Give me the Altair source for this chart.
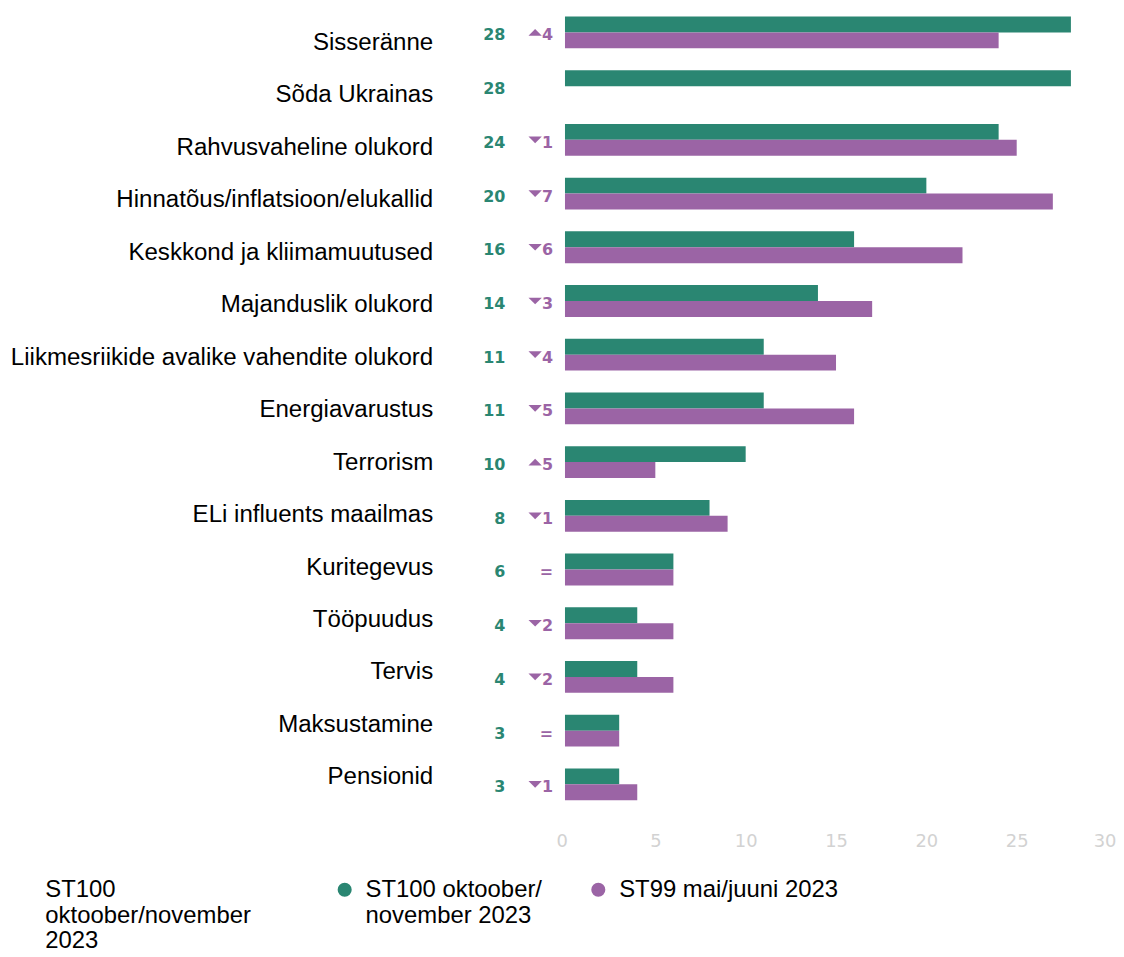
import altair as alt
import pandas as pd

categories = [
    "Sisseränne", "Sõda Ukrainas", "Rahvusvaheline olukord",
    "Hinnatõus/inflatsioon/elukallid", "Keskkond ja kliimamuutused",
    "Majanduslik olukord", "Liikmesriikide avalike vahendite olukord",
    "Energiavarustus", "Terrorism", "ELi influents maailmas", "Kuritegevus",
    "Tööpuudus", "Tervis", "Maksustamine", "Pensionid",
]
st100 = [28, 28, 24, 20, 16, 14, 11, 11, 10, 8, 6, 4, 4, 3, 3]
st99 = [24, None, 25, 27, 22, 17, 15, 16, 5, 9, 6, 6, 6, 3, 4]
change_dir = ["up", None, "down", "down", "down", "down", "down", "down",
              "up", "down", "eq", "down", "down", "eq", "down"]
change_num = [4, None, 1, 7, 6, 3, 4, 5, 5, 1, None, 2, 2, None, 1]
series = ["ST100 oktoober/november 2023", "ST99 mai/juuni 2023"]
colors = ["#2a8672", "#9b64a5"]
x_ticks = [0, 5, 10, 15, 20, 25, 30]
GREEN, PURPLE = colors

rows = []
for c, a, b in zip(categories, st100, st99):
    rows.append({"category": c, "series": series[0], "value": a})
    if b is not None:
        rows.append({"category": c, "series": series[1], "value": b})
bars_df = pd.DataFrame(rows)

lab_rows = []
for c, a, d, n in zip(categories, st100, change_dir, change_num):
    if d is None:
        ch = None
    elif d == "eq":
        ch = "="
    else:
        ch = str(n)
    lab_rows.append({"category": c, "st100": str(a), "dir": d, "chg": ch})
lab_df = pd.DataFrame(lab_rows)

yscale = alt.Scale(paddingInner=0.407, paddingOuter=0.111)
y_enc = alt.Y(
    "category:N", sort=categories, scale=yscale, title=None,
    axis=alt.Axis(domain=False, ticks=False, grid=False, labelPadding=133,
                  labelFont="Liberation Sans", labelFontSize=24.2,
                  labelColor="black", labelLimit=600,
                  labelOffset=alt.ExprRef("10.7 - 17.7 * datum.index")),
)

legend = alt.Legend(
    orient="none", legendX=-522.5, legendY=872, direction="horizontal",
    title=["ST100", "oktoober/november", "2023"], titleOrient="left",
    titleFont="Liberation Sans", titleFontSize=24, titleFontWeight="normal",
    titleColor="black", titleLineHeight=26, titlePadding=82, titleLimit=400,
    titleAnchor="start", titleBaseline="top",
    labelFont="Liberation Sans", labelFontSize=24, labelColor="black",
    labelBaseline="middle", labelLimit=400, labelOffset=9,
    labelExpr="datum.value == 'ST100 oktoober/november 2023' ? ['ST100 oktoober/', 'november 2023'] : ['ST99 mai/juuni 2023', '']",
    symbolType="circle", symbolSize=200, symbolStrokeWidth=0, symbolOpacity=1,
    columnPadding=44,
)

bars = alt.Chart(bars_df).mark_bar().encode(
    y=y_enc,
    x=alt.X("value:Q", scale=alt.Scale(domain=[0, 30]), title=None,
            axis=alt.Axis(domain=False, ticks=False, grid=False, values=x_ticks,
                          labelFlush=True, labelFlushOffset=9,
                          labelFont="DejaVu Sans", labelFontSize=18,
                          labelColor="#d2d2d2", labelPadding=26)),
    yOffset=alt.YOffset("series:N", sort=series,
                        scale=alt.Scale(domain=series, paddingInner=0, paddingOuter=0)),
    color=alt.Color("series:N", scale=alt.Scale(domain=series, range=colors),
                    legend=legend),
)

green_nums = alt.Chart(lab_df).mark_text(
    align="right", baseline="middle", dy=3, font="DejaVu Sans",
    fontWeight="bold", fontSize=16, color=GREEN,
).encode(y=alt.Y("category:N", sort=categories), x=alt.value(-60), text="st100:N")

chg_nums = alt.Chart(lab_df).transform_filter("datum.chg != null").mark_text(
    align="right", baseline="middle", dy=3, font="DejaVu Sans",
    fontWeight="bold", fontSize=16, color=PURPLE,
).encode(y=alt.Y("category:N", sort=categories), x=alt.value(-12), text="chg:N")

up_path = "M -1 0.5 L 1 0.5 L 0 -0.5 Z"
down_path = "M -1 -0.5 L 1 -0.5 L 0 0.5 Z"
tris = alt.Chart(lab_df).transform_filter(
    "datum.dir == 'up' || datum.dir == 'down'"
).mark_point(filled=True, size=180, color=PURPLE, opacity=1, strokeWidth=0, dy=2).encode(
    y=alt.Y("category:N", sort=categories),
    x=alt.value(-30),
    shape=alt.Shape("dir:N", scale=alt.Scale(domain=["up", "down"], range=[up_path, down_path]),
                    legend=None),
)

chart = alt.layer(bars, green_nums, chg_nums, tris).properties(
    width=545, height=800,
    padding={"left": 2, "top": 0, "right": 0, "bottom": 0},
).configure(
    style={"guide-label": {"lineHeight": 26}}
).configure_view(stroke=None)

chart.save("out.html", embed_options={"renderer": "svg", "actions": False})
